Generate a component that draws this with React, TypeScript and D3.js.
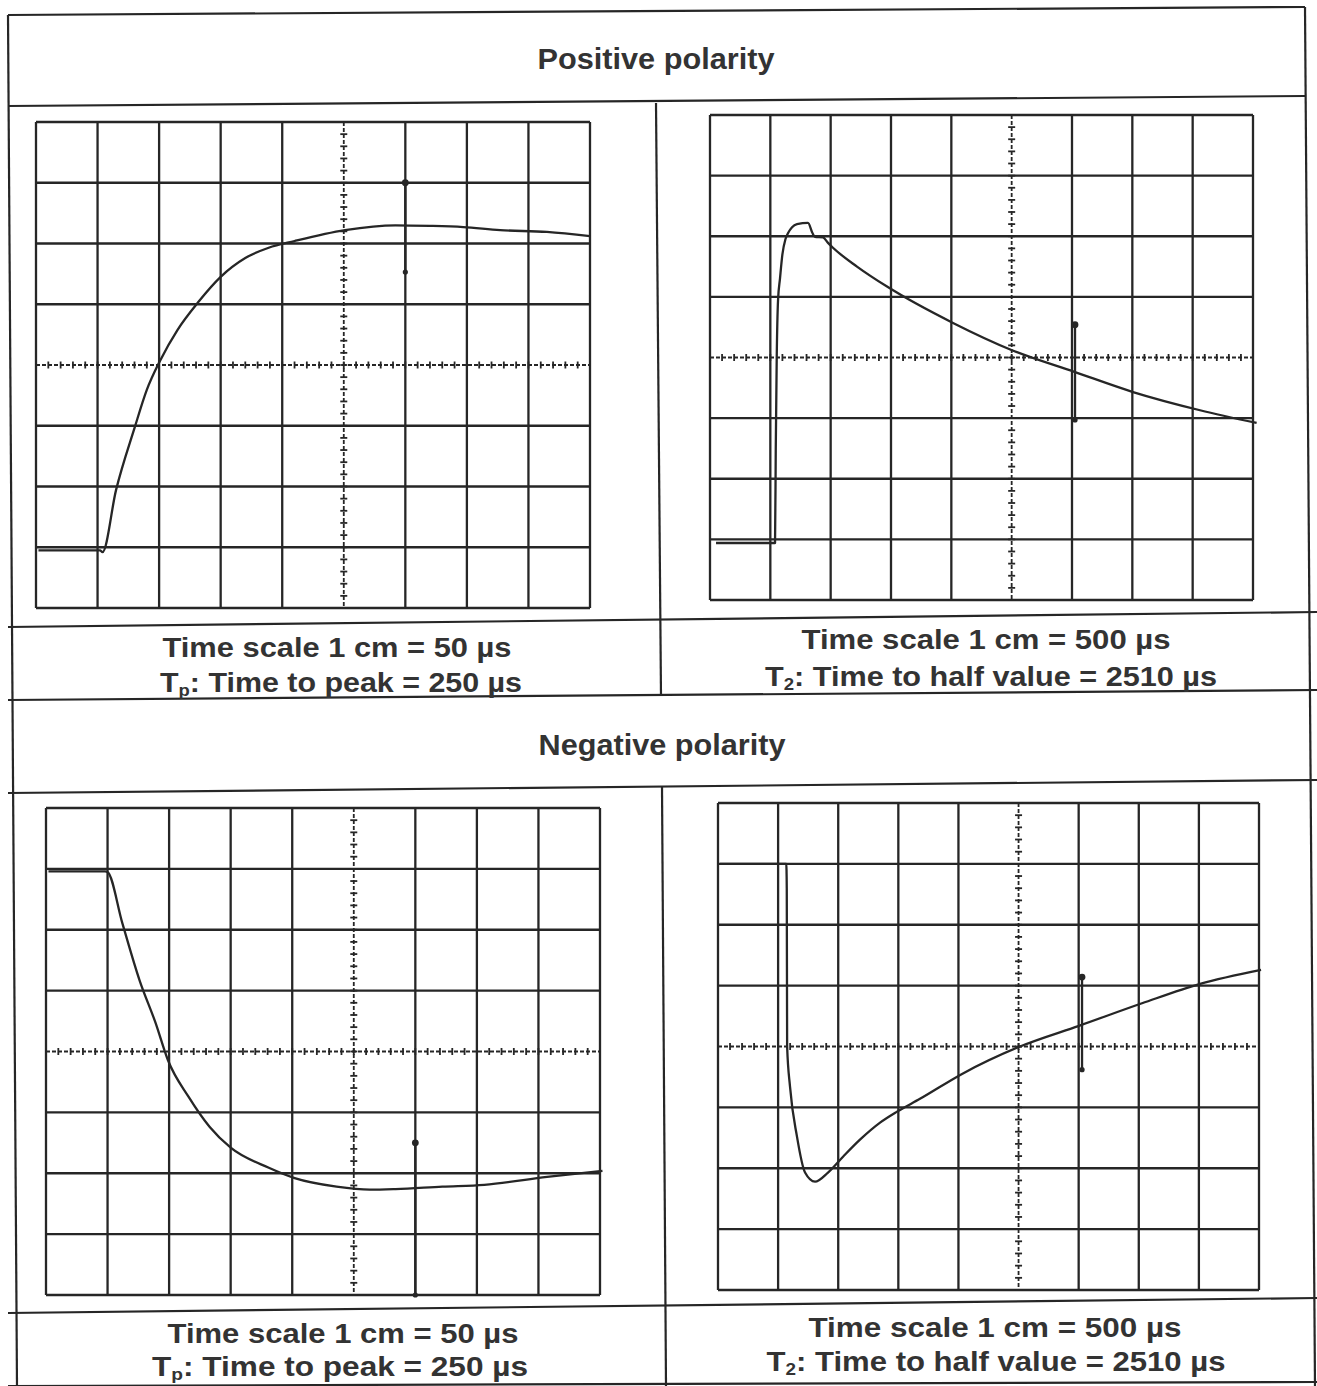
import React from "react";
import * as d3 from "d3";

// ---------- DATA ----------
// Titles & captions
const SECTION_TITLES = ["Positive polarity", "Negative polarity"];
const SCALE_CAPTIONS = ["Time scale 1 cm = 50 µs", "Time scale 1 cm = 500 µs"];
const RESULT_LABELS = [
  { main: "T", sub: "p", rest: ": Time to peak = 250 µs" },
  { main: "T", sub: "2", rest: ": Time to half value = 2510 µs" },
];

// Oscilloscope screen: 9 horizontal divisions, 8 vertical divisions (-4..4)
const TIME_PER_DIV = [50, 500]; // µs per division

// Positive polarity, fast sweep (time µs, amplitude div)
const POS_FAST_T = [2, 52, 54, 65, 80, 90, 101, 115, 132, 150, 170, 189, 210, 251, 292, 320, 347, 377, 415, 450];
const POS_FAST_V = [-3.05, -3.05, -3.08, -2.06, -1.04, -0.41, 0.08, 0.58, 1.04, 1.45, 1.76, 1.93, 2.04, 2.22, 2.3, 2.29, 2.27, 2.22, 2.19, 2.12];

// Positive polarity, slow sweep
const POS_SLOW_T = [50, 539, 545, 553, 564, 580, 600, 625, 646, 680, 721, 812, 850, 870, 936, 978, 1019, 1218, 1467, 2014, 2503, 3025, 3506, 4061, 4530];
const POS_SLOW_V = [-3.06, -3.06, -1.5, 0.0, 0.95, 1.3, 1.7, 1.95, 2.05, 2.15, 2.2, 2.22, 2.05, 1.99, 1.98, 1.89, 1.81, 1.5, 1.17, 0.57, 0.12, -0.24, -0.57, -0.87, -1.08];

// Negative polarity, fast sweep
const NEG_FAST_T = [2, 48, 50, 62, 76, 89, 99, 116, 133, 150, 181, 202, 236, 263, 284, 322, 356, 407, 452];
const NEG_FAST_V = [2.96, 2.96, 2.95, 2.11, 1.17, 0.47, -0.14, -0.75, -1.24, -1.58, -1.91, -2.08, -2.22, -2.27, -2.26, -2.22, -2.19, -2.06, -1.96];

// Negative polarity, slow sweep
const NEG_SLOW_T = [17, 568, 572, 575, 599, 657, 724, 807, 915, 1040, 1181, 1348, 1489, 1680, 2030, 2512, 3003, 3527, 4010, 4517];
const NEG_SLOW_V = [3.0, 3.0, 2.6, 0.0, -0.66, -1.48, -2.07, -2.22, -2.07, -1.81, -1.53, -1.25, -1.07, -0.86, -0.45, 0.0, 0.34, 0.71, 1.03, 1.26];

// Cursor markers: [time µs, from div, to div]
const MARKERS = [
  [300, 3.0, 1.53],
  [3025, 0.54, -1.03],
  [300, -1.5, -4],
  [3028, 1.14, -0.38],
];

// ---------- LAYOUT ----------
const W = 1317;
const H = 1386;
const INK = "#262626";
const FONT = "'Liberation Sans', Arial, Helvetica, sans-serif";

const PANEL_BOXES = [
  { x0: 36, x1: 590, y0: 122, y1: 608 },
  { x0: 710, x1: 1253, y0: 115, y1: 600 },
  { x0: 46, x1: 600, y0: 808, y1: 1295 },
  { x0: 718, x1: 1259, y0: 803, y1: 1290 },
];

const panels = [
  { box: PANEL_BOXES[0], tpd: TIME_PER_DIV[0], t: POS_FAST_T, v: POS_FAST_V, m: MARKERS[0] },
  { box: PANEL_BOXES[1], tpd: TIME_PER_DIV[1], t: POS_SLOW_T, v: POS_SLOW_V, m: MARKERS[1] },
  { box: PANEL_BOXES[2], tpd: TIME_PER_DIV[0], t: NEG_FAST_T, v: NEG_FAST_V, m: MARKERS[2] },
  { box: PANEL_BOXES[3], tpd: TIME_PER_DIV[1], t: NEG_SLOW_T, v: NEG_SLOW_V, m: MARKERS[3] },
];

const DIV_X = 9;
const DIV_Y = 4;

function Scope({ p }: { p: any }) {
  const { box, tpd, t, v, m } = p;
  const x = d3.scaleLinear().domain([0, tpd * DIV_X]).range([box.x0, box.x1]);
  const y = d3.scaleLinear().domain([-DIV_Y, DIV_Y]).range([box.y1, box.y0]);
  const vLines = d3.range(0, DIV_X + 1).map((i) => i * tpd);
  const hLines = d3.range(-DIV_Y, DIV_Y + 1);
  const axisT = 5 * tpd;
  const minorT = d3.range(0, DIV_X * 5 + 1).map((i) => (i * tpd) / 5);
  const minorV = d3.range(-DIV_Y * 5, DIV_Y * 5 + 1).map((i) => i / 5);
  const pts = t.map((tt: number, i: number) => [tt, v[i]] as [number, number]);
  const line = d3
    .line<[number, number]>()
    .x((d) => x(d[0]))
    .y((d) => y(d[1]))
    .curve(d3.curveMonotoneX);
  return (
    <g>
      {vLines.map((tt: number, i: number) => (
        <line key={"v" + i} x1={x(tt)} x2={x(tt)} y1={y(DIV_Y)} y2={y(-DIV_Y)} stroke={INK} strokeWidth={i === 5 ? 1.8 : 2.3} strokeDasharray={i === 5 ? "4,2" : undefined} />
      ))}
      {hLines.map((d: number, i: number) => (
        <line key={"h" + i} x1={x(0)} x2={x(tpd * DIV_X)} y1={y(d)} y2={y(d)} stroke={INK} strokeWidth={d === 0 ? 1.8 : 2.3} strokeDasharray={d === 0 ? "4,2" : undefined} />
      ))}
      {minorT.map((tt: number, i: number) => (
        <line key={"mt" + i} x1={x(tt)} x2={x(tt)} y1={y(0) - 3.5} y2={y(0) + 3.5} stroke={INK} strokeWidth={1.8} />
      ))}
      {minorV.map((d: number, i: number) => (
        <line key={"mv" + i} x1={x(axisT) - 3.5} x2={x(axisT) + 3.5} y1={y(d)} y2={y(d)} stroke={INK} strokeWidth={1.8} />
      ))}
      <path d={line(pts) || ""} fill="none" stroke={INK} strokeWidth={2.3} strokeLinejoin="round" />
      <line x1={x(m[0])} x2={x(m[0])} y1={y(m[1])} y2={y(m[2])} stroke={INK} strokeWidth={2.3} />
      <circle cx={x(m[0])} cy={y(m[1])} r={3.4} fill={INK} />
      <circle cx={x(m[0])} cy={y(m[2])} r={2.6} fill={INK} />
    </g>
  );
}

const TABLE_LINES = [
  [8, 15, 1305, 7],
  [8, 106, 1305, 96],
  [8, 627, 1317, 612],
  [8, 700, 1317, 690],
  [8, 793, 1317, 780],
  [8, 1313, 1317, 1298],
  [8, 1386, 1317, 1382],
  [8, 15, 17, 1386],
  [1305, 7, 1315, 1386],
  [656, 103, 661, 696],
  [662, 787, 666, 1386],
];

const TITLE_POS = [
  { x: 656, y: 69, w: 237 },
  { x: 662, y: 755, w: 247 },
];

const CAPTION_POS = [
  { x: 337, y: 657, w: 349, kind: 0 },
  { x: 341, y: 692, w: 362, kind: 1, res: 0 },
  { x: 986, y: 649, w: 369, kind: 0 },
  { x: 991, y: 686, w: 452, kind: 1, res: 1 },
  { x: 343, y: 1343, w: 351, kind: 0 },
  { x: 340, y: 1376, w: 376, kind: 1, res: 0 },
  { x: 995, y: 1337, w: 373, kind: 0 },
  { x: 996, y: 1371, w: 459, kind: 1, res: 1 },
];

export default function App() {
  return (
    <svg width={W} height={H} style={{ position: "absolute", left: 0, top: 0, background: "#fff" }} fontFamily={FONT}>
      <rect x={0} y={0} width={W} height={H} fill="#fff" />
      {TABLE_LINES.map((l, i) => (
        <line key={"t" + i} x1={l[0]} y1={l[1]} x2={l[2]} y2={l[3]} stroke={INK} strokeWidth={2.2} />
      ))}
      {panels.map((p, i) => (
        <Scope key={"p" + i} p={p} />
      ))}
      {TITLE_POS.map((tp, i) => (
        <text key={"ti" + i} x={tp.x} y={tp.y} textAnchor="middle" fontSize={29} fontWeight="bold" fill="#333" textLength={tp.w} lengthAdjust="spacingAndGlyphs">
          {SECTION_TITLES[i]}
        </text>
      ))}
      {CAPTION_POS.map((c, i) => {
        const col = i % 4 < 2 ? 0 : 1;
        if (c.kind === 0) {
          return (
            <text key={"c" + i} x={c.x} y={c.y} textAnchor="middle" fontSize={28} fontWeight="bold" fill="#333" textLength={c.w} lengthAdjust="spacingAndGlyphs">
              {SCALE_CAPTIONS[col]}
            </text>
          );
        }
        const r = RESULT_LABELS[c.res as number];
        return (
          <text key={"c" + i} x={c.x} y={c.y} textAnchor="middle" fontSize={28} fontWeight="bold" fill="#333" textLength={c.w} lengthAdjust="spacingAndGlyphs">
            {r.main}
            <tspan fontSize={17} dy={4}>{r.sub}</tspan>
            <tspan dy={-4}>{r.rest}</tspan>
          </text>
        );
      })}
    </svg>
  );
}
